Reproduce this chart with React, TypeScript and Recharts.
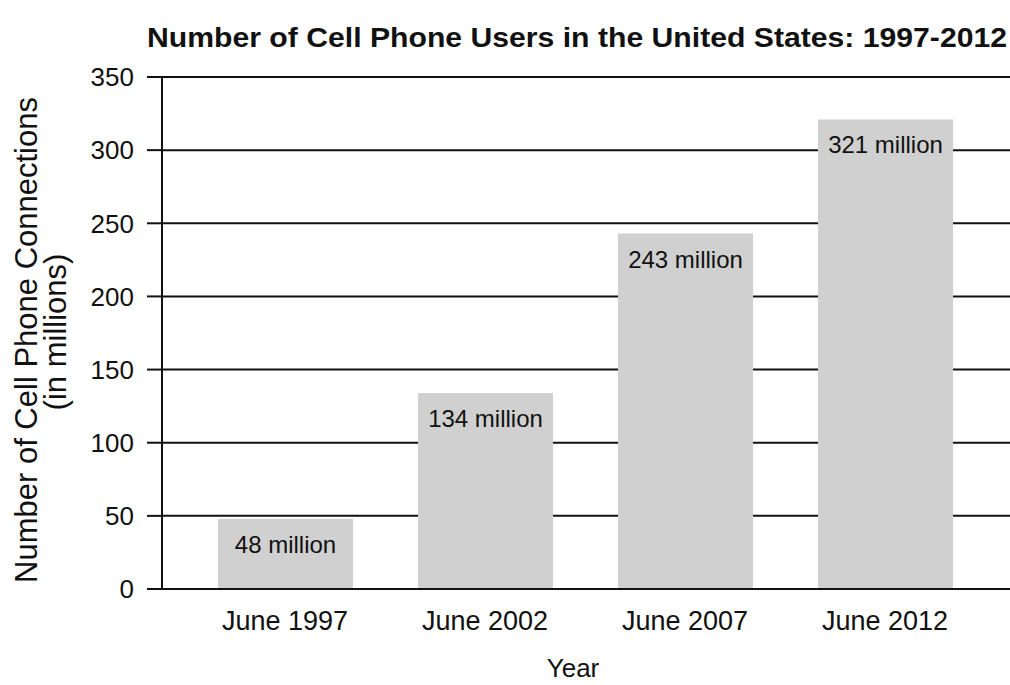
import React from "react";
import { BarChart, Bar, XAxis, YAxis, CartesianGrid, LabelList, Label } from "recharts";

const categories = ["June 1997", "June 2002", "June 2007", "June 2012"];
const users = [48, 134, 243, 321];
const valueLabels = ["48 million", "134 million", "243 million", "321 million"];
const yTicks = [0, 50, 100, 150, 200, 250, 300, 350];

const data = categories.map((c, i) => ({ year: c, users: users[i], label: valueLabels[i] }));

const FONT = "'Liberation Sans', Arial, Helvetica, sans-serif";

const YLabel = (props: any) => {
  return (
    <g>
      <text x={0} y={0} transform={`translate(37, 340) rotate(-90)`} textAnchor="middle" fontSize={31} fill="#111" fontFamily={FONT}>
        Number of Cell Phone Connections
      </text>
      <text x={0} y={0} transform={`translate(66, 332) rotate(-90)`} textAnchor="middle" fontSize={31} fill="#111" fontFamily={FONT}>
        (in millions)
      </text>
    </g>
  );
};

const XLabel = (props: any) => {
  return (
    <text x={573} y={677} textAnchor="middle" fontSize={26} fill="#111" fontFamily={FONT}>
      Year
    </text>
  );
};

export default function App() {
  return (
    <div style={{ position: "absolute", left: 0, top: 0, width: 1010, height: 685, background: "#fff" }}>
      <svg width={1010} height={60} style={{ position: "absolute", left: 0, top: 0 }}>
        <text x={577} y={47} textAnchor="middle" fontSize={28} fontWeight="bold" fill="#111" fontFamily={FONT} textLength={860} lengthAdjust="spacingAndGlyphs">
          Number of Cell Phone Users in the United States: 1997-2012
        </text>
      </svg>
      <div style={{ position: "absolute", left: 0, top: 0 }}>
        <BarChart width={1010} height={685} data={data} margin={{ top: 77, right: 0, bottom: 0, left: 0 }} barSize={135}>
          <CartesianGrid vertical={false} horizontal={true} stroke="#111" strokeWidth={2} />
          <XAxis
            dataKey="year"
            height={96}
            padding={{ left: 23, right: 25 }}
            axisLine={{ stroke: "#111", strokeWidth: 2 }}
            tickLine={false}
            tickSize={0}
            tickMargin={22}
            tick={{ fill: "#111", fontSize: 27, fontFamily: FONT }}
            interval={0}
          >
            <Label content={XLabel} />
          </XAxis>
          <YAxis
            width={162}
            domain={[0, 350]}
            ticks={yTicks}
            interval={0}
            axisLine={{ stroke: "#111", strokeWidth: 2 }}
            tickLine={{ stroke: "#111", strokeWidth: 2 }}
            tickSize={15}
            tickMargin={13}
            tick={{ fill: "#111", fontSize: 26, fontFamily: FONT }}
          >
            <Label content={YLabel} />
          </YAxis>
          <Bar dataKey="users" fill="#d0d0d0" isAnimationActive={false}>
            <LabelList dataKey="label" position="insideTop" offset={17} fill="#111" fontSize={24} fontFamily={FONT} />
          </Bar>
        </BarChart>
      </div>
    </div>
  );
}
